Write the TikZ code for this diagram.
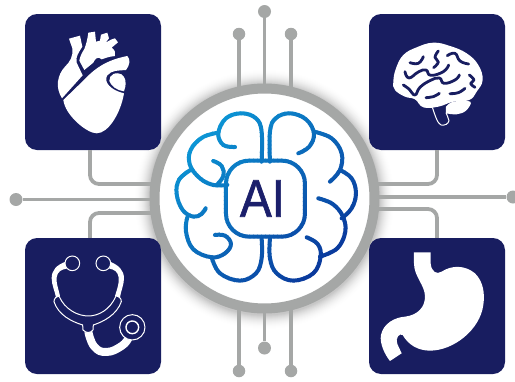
\documentclass[tikz,border=0pt]{standalone}
\usepackage{fontspec}
\setmainfont{Liberation Sans}
\newfontfamily\aifont[FakeBold=1.3]{Liberation Sans}
\definecolor{navy}{HTML}{181D60}
\definecolor{wiregray}{HTML}{A5A7A6}
\definecolor{ainavy}{HTML}{1B1F6B}
\definecolor{bluelight}{HTML}{0CA4DE}
\definecolor{bluedark}{HTML}{0A2F96}
\newcommand{\brainstrokes}{%
\begin{scope}[x=.3333pt,y=-.3333pt,shift={(450,270)},line width=4pt,line cap=round,line join=round]
\draw[brainc] plot[smooth,tension=.65] coordinates {(335,215)(335,125)(318,85)(275,70)(228,85)(205,130)(220,165)(255,171)};
\draw[brainc] plot[smooth,tension=.65] coordinates {(205,128)(158,142)(122,180)(120,225)(150,265)(190,285)(232,285)};
\draw[brainc] plot[smooth,tension=.7] coordinates {(190,213)(215,228)(220,258)(200,285)};
\draw[brainc] plot[smooth,tension=.65] coordinates {(125,238)(88,268)(80,312)(98,360)(130,380)(155,372)(167,355)};
\draw[brainc] plot[smooth,tension=.65] coordinates {(112,382)(108,425)(130,478)(185,502)(225,490)(243,462)(225,437)(195,435)};
\draw[brainc] plot[smooth,tension=.65] coordinates {(185,502)(210,550)(270,572)(318,550)(335,505)(335,445)};
\draw[brainc] plot[smooth,tension=.65] coordinates {(360,215)(360,125)(377,85)(420,70)(468,88)(492,130)(478,170)(445,190)};
\draw[brainc] plot[smooth,tension=.65] coordinates {(492,125)(545,145)(575,190)(570,240)(540,275)};
\draw[brainc] plot[smooth,tension=.65] coordinates {(570,240)(605,265)(618,310)(605,355)(575,385)};
\draw[brainc] plot[smooth,tension=.65] coordinates {(505,325)(548,342)(578,378)(586,425)(562,475)(510,500)};
\draw[brainc] plot[smooth,tension=.65] coordinates {(470,442)(503,462)(512,500)(490,550)(430,572)(380,550)(360,505)(360,445)};
\draw[brainc,rounded corners=23pt] (228,212) rectangle (465,440);
\end{scope}}
\tikzset{
 tile/.style={fill=navy,rounded corners=12pt,minimum size=136pt,inner sep=0pt},
 wire/.style={draw=wiregray,line width=3.8pt},
 pin/.style={circle,fill=wiregray,minimum size=13pt,inner sep=0pt},
 hubring/.style={circle,draw=wiregray,fill=white,line width=10pt,minimum size=220pt,inner sep=0pt,outer sep=0pt},
 icon/.style={fill=white,draw=none},
 gap/.style={draw=navy,line width=2.8pt,line cap=round,line join=round},
 thinw/.style={draw=white,line width=1pt},
}
\begin{document}
\begin{tikzpicture}[x=1pt,y=-1pt]
\useasboundingbox (0,0) rectangle (515,381);
\foreach \r in {131,130,...,116}{
  \pgfmathsetmacro\p{22*((131-\r)/15)^2}
  \fill[black!\p!white] (264.5,199.5) circle (\r pt);
}
\node[hubring] (hub) at (264.5,198.5) {};
\node[tile] (tl) at (93,82) {};
\node[tile] (tr) at (437,82) {};
\node[tile] (bl) at (93,306) {};
\node[tile] (br) at (437,306) {};
\node[pin] (pl) at (16,199.5) {};
\node[pin] (pr) at (513,197) {};
\node[pin] (pt) at (264.5,11.5) {};
\node[pin,minimum size=12.5pt] (ptl) at (239,34) {};
\node[pin,minimum size=12.5pt] (ptr) at (291,34) {};
\node[pin] (pb) at (264.5,348) {};
\node[pin,minimum size=12.5pt] (pbl) at (239,371) {};
\node[pin,minimum size=12.5pt] (pbr) at (291,371) {};
\coordinate (hubtl) at (156,184);
\coordinate (hubtr) at (373,184);
\coordinate (hubbl) at (156,213);
\coordinate (hubbr) at (373,209);
\draw[wire] (pl) -- (pl -| hub.west);
\draw[wire] (pr) -- (pr -| hub.east);
\draw[wire] (pt) -- (hub.north);
\draw[wire] (ptl) -- (ptl |- hub.north);
\draw[wire] (ptr) -- (ptr |- hub.north);
\draw[wire] (pb) -- (hub.south);
\draw[wire] (pbl) -- (pbl |- hub.south);
\draw[wire] (pbr) -- (pbr |- hub.south);
\draw[wire,rounded corners=9pt] ([xshift=-3pt]tl.south) |- (hubtl);
\draw[wire,rounded corners=9pt] (tr.south) |- (hubtr);
\draw[wire,rounded corners=9pt] ([xshift=-3pt]bl.north) |- (hubbl);
\draw[wire,rounded corners=9pt] (br.north) |- (hubbr);
% AI brain: the stroke's colour runs diagonally, band by band
\foreach \t in {280,284,...,640}{
  \pgfmathsetmacro\p{min(100,max(0,(\t-295)/3.2))}
  \colorlet{brainc}{bluedark!\p!bluelight}
  \begin{scope}
    \clip (\t-50,50) -- (\t+4.6-50,50) -- (\t+4.6-400,400) -- (\t-400,400) -- cycle;
    \brainstrokes
  \end{scope}
}
\node[text=ainavy,font=\aifont\fontsize{53}{53}\selectfont,inner sep=0pt,xscale=.9] (ai) at (262.5,198.5) {AI};
% heart
\begin{scope}[x=.3333pt,y=-.3333pt]
\fill[icon] (207,116) -- (240,107) -- (247,140) .. controls (236,158) and (226,170) .. (230,188) -- (248,226) -- (186,295) .. controls (165,262) and (172,225) .. (195,200) .. controls (210,185) and (220,170) .. (217,145) -- cycle;
\fill[icon] (265,98) -- (285,95) -- (288,125) -- (300,122) -- (303,104) -- (322,98) -- (327,115) -- (317,128) -- (333,119) -- (345,115) -- (354,127) -- (335,143) .. controls (345,150) and (348,160) .. (345,168) .. controls (325,170) and (315,175) .. (305,178) .. controls (295,168) and (285,175) .. (280,188) -- (253,210) -- (238,182) .. controls (240,168) and (248,155) .. (253,147) .. controls (258,135) and (262,120) .. (265,98) -- cycle;
\fill[icon] (190,300) -- (256,236) .. controls (285,205) and (320,180) .. (382,168) .. controls (392,178) and (390,195) .. (378,210) .. controls (355,212) and (335,210) .. (322,226) .. controls (310,245) and (330,270) .. (372,280) .. controls (362,340) and (325,400) .. (290,400) .. controls (260,400) and (195,345) .. (190,300) -- cycle;
\fill[icon] (340,222) .. controls (360,215) and (372,225) .. (376,240) .. controls (378,255) and (376,265) .. (372,274) .. controls (352,272) and (333,258) .. (328,243) .. controls (327,235) and (332,226) .. (340,222) -- cycle;
\end{scope}
% brain icon
\begin{scope}[shift={(340,0)},x=.3333pt,y=-.3333pt]
\draw[thinw] (277,322) .. controls (285,345) and (292,370) .. (303,375) .. controls (315,377) and (325,372) .. (327,362) .. controls (325,352) and (320,345) .. (318,338);
\fill[icon] plot[smooth,tension=.6] coordinates {(318,340)(350,343)(378,332)(391,305)(340,305)(318,320)};
\fill[icon] plot[smooth cycle,tension=.7] coordinates {(160,245)(168,205)(190,165)(230,142)(280,128)(330,138)(380,160)(415,195)(428,240)(410,275)(388,300)(340,305)(295,320)(250,322)(225,298)(195,290)(165,270)};
\draw[gap] plot[smooth,tension=.8] coordinates {(210,188)(235,190)(250,170)};
\draw[gap] plot[smooth,tension=.8] coordinates {(295,153)(285,172)(295,186)(281,203)};
\draw[gap] plot[smooth,tension=.8] coordinates {(322,167)(345,160)(360,183)(386,192)};
\draw[gap] plot[smooth,tension=.8] coordinates {(195,215)(207,234)(235,216)(258,210)(272,226)(310,215)(326,195)};
\draw[gap] plot[smooth,tension=.8] coordinates {(190,255)(208,268)(225,285)(240,262)(270,242)(298,234)(312,250)(345,240)(358,225)};
\draw[gap] plot[smooth,tension=.8] coordinates {(258,293)(280,290)(298,280)};
\draw[gap] plot[smooth,tension=.8] coordinates {(330,281)(355,278)(375,265)};
\draw[gap] plot[smooth,tension=.8] coordinates {(388,225)(402,240)(392,250)(405,262)};
\end{scope}
% stethoscope
\begin{scope}[shift={(0,190)},x=.3333pt,y=-.3333pt]
\fill[icon] (197,215) .. controls (170,225) and (155,240) .. (155,265) .. controls (155,285) and (165,305) .. (168,322) -- (180,318) .. controls (175,295) and (168,280) .. (170,262) .. controls (172,245) and (185,238) .. (200,236) -- cycle;
\fill[icon] (330,215) .. controls (355,225) and (372,240) .. (372,265) .. controls (372,285) and (362,305) .. (360,322) -- (345,318) .. controls (352,295) and (358,280) .. (356,262) .. controls (354,245) and (342,238) .. (328,236) -- cycle;
\draw[thinw,fill=navy] (217,220) circle (22);
\draw[thinw,fill=navy] (310,220) circle (22);
\draw[draw=white,line width=8pt,line cap=butt] plot[smooth,tension=.8] coordinates {(265,425)(283,470)(320,486)(365,468)(385,445)};
\draw[thinw,fill=navy] (177,318) .. controls (195,360) and (235,378) .. (265,378) .. controls (295,378) and (330,360) .. (348,318) .. controls (355,318) and (365,325) .. (364,335) .. controls (350,375) and (310,395) .. (280,405) -- (279,420) .. controls (272,430) and (258,430) .. (249,420) -- (248,405) .. controls (215,395) and (175,375) .. (162,335) .. controls (162,325) and (170,318) .. (177,318) -- cycle;
\draw[thinw,fill=navy] (397,412) circle (38);
\draw[draw=white,line width=1.4pt] (397,412) circle (19);
\end{scope}
% stomach
\begin{scope}[shift={(340,190)},x=.3333pt,y=-.3333pt]
\fill[icon] (222,187) -- (272,187) -- (272,220) .. controls (274,245) and (290,255) .. (305,245) .. controls (335,225) and (375,225) .. (405,250) .. controls (430,275) and (435,310) .. (430,345) .. controls (420,420) and (340,482) .. (270,482) .. controls (235,482) and (205,465) .. (188,435) .. controls (178,428) and (165,445) .. (172,462) -- (185,490) -- (150,513) .. controls (135,495) and (118,460) .. (123,435) .. controls (130,400) and (165,382) .. (195,380) .. controls (235,375) and (255,350) .. (255,320) .. controls (255,285) and (222,260) .. (222,220) -- cycle;
\end{scope}
\end{tikzpicture}
\end{document}
